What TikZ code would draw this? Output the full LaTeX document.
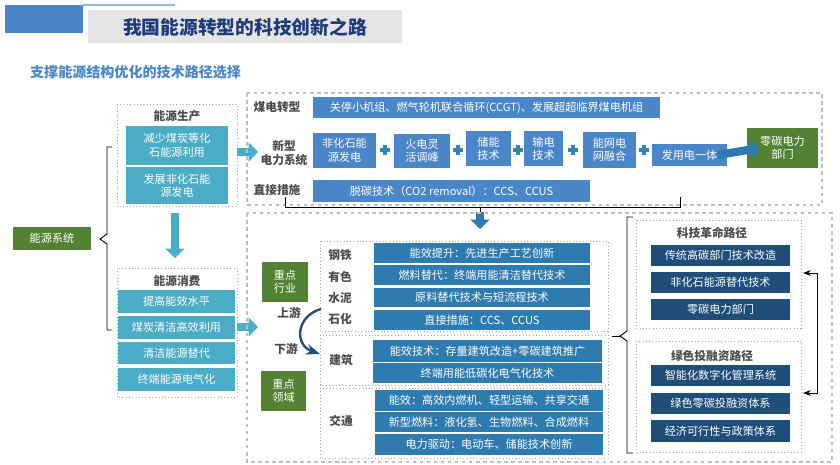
\documentclass[tikz,border=0pt]{standalone}
\usepackage{fontspec}
\setmainfont{Noto Sans CJK SC}
\usetikzlibrary{arrows.meta,decorations.pathreplacing}

\definecolor{teal}{HTML}{4BACC6}
\definecolor{midblue}{HTML}{4A86C8}
\definecolor{steel}{HTML}{2E7BB0}
\definecolor{navy}{HTML}{1F4E79}
\definecolor{leaf}{HTML}{548235}
\definecolor{ttl}{HTML}{1F3C7A}

\tikzset{
  bx/.style={inner sep=0pt,align=center,text=white,font=\fontsize{9.5}{11.5}\selectfont},
  lbl/.style={font=\bfseries\fontsize{10}{12}\selectfont,text=black!70,align=center},
  dotbox/.style={draw=black!35,dotted,thick},
  dashbox/.style={draw=black!25,dashed,line width=1.2pt},
  blk/.style={line width=7,-{Triangle[length=8,width=16]}},
  plus/.style={line width=3.2,color=steel!80!teal},
}

% box from corner to corner
\def\bx#1#2#3#4#5#6#7{
  \fill[#6] (#2,#3) rectangle (#4,#5);
  \node[bx] (#1) at ({(#2+#4)/2},{(#3+#5)/2}) {#7};
}
\def\pl#1{
  \draw[plus] (#1-5,150)--(#1+5,150);
  \draw[plus] (#1,145)--(#1,155);
}

\begin{document}
\begin{tikzpicture}[x=0.03cm,y=-0.03cm,>=Stealth]
\useasboundingbox (0,0) rectangle (840,464);

% header
\fill[midblue] (5,5) rectangle (83,33);
\draw[midblue!60,line width=1pt] (83,5)--(175,5);
\fill[black!10] (88,10) rectangle (402,43);
\node[font=\bfseries\fontsize{16}{18}\selectfont,text=ttl] (title) at (245,27) {我国能源转型的科技创新之路};
\node[font=\bfseries\fontsize{12}{14}\selectfont,text=midblue,anchor=west] (sub) at (26,72) {支撑能源结构优化的技术路径选择};

% left part
\bx{sys}{13}{227}{91}{250}{leaf}{能源系统}
\draw[thick] (112,147)--(107,147)--(107,234)--(100,239)--(107,244)--(107,330)--(112,330);

\draw[dotbox] (117,104) rectangle (237,206);
\node[lbl] (prod) at (177,116) {能源生产};
\bx{p1}{126}{126}{228}{165}{teal}{减少煤炭等化\\石能源利用}
\bx{p2}{126}{167}{228}{204}{teal}{发展非化石能\\源发电}
\draw[blk,teal] (175,213)--(175,258);

\draw[dotbox] (117,268) rectangle (237,397);
\node[lbl] (cons) at (177,281) {能源消费};
\bx{c1}{118}{290}{235}{313}{teal}{提高能效水平}
\bx{c2}{118}{316}{235}{339}{teal}{煤炭清洁高效利用}
\bx{c3}{118}{342}{235}{364}{teal}{清洁能源替代}
\bx{c4}{118}{368}{235}{391}{teal}{终端能源电气化}

\draw[blk,teal] (237,152)--(258,152);
\draw[blk,teal] (237,327)--(258,327);

% upper: power
\draw[dashbox] (247,93) rectangle (822,205);
\node[lbl] (coal) at (277,107) {煤电转型};
\bx{coalb}{313}{97}{660}{118}{midblue}{关停小机组、燃气轮机联合循环(CCGT)、发展超超临界煤电机组}
\node[lbl] (newp) at (284,153) {新型\\电力系统};
\bx{n1}{313}{133}{376}{168}{midblue}{非化石能\\源发电}
\pl{385}
\bx{n2}{394}{134}{450}{168}{midblue}{火电灵\\活调峰}
\pl{458}
\bx{n3}{466}{131}{511}{166}{midblue}{储能\\技术}
\pl{518}
\bx{n4}{524}{131}{563}{166}{midblue}{输电\\技术}
\pl{573}
\bx{n5}{583}{132}{636}{168}{midblue}{能网电\\网融合}
\pl{644}
\bx{n6}{652}{144}{727}{166}{midblue}{发用电一体}
\bx{zero}{747}{128}{818}{168}{leaf}{零碳电力\\部门}
\draw[blk,steel] (n6.east)--(zero.west);
\node[lbl] (direct) at (277,190) {直接措施};
\bx{dirb}{313}{180}{590}{202}{midblue}{脱碳技术（CO2 removal）：CCS、CCUS}
\draw[thin] (285,197)--(285,207)--(680,207)--(680,197);
\draw[thin] (480,207)--(480,214);
\draw[blk,steel] (480,212)--(480,229);

% lower: demand side
\draw[dashbox] (247,213) rectangle (832,462);
\bx{ind}{262}{262}{308}{302}{leaf}{重点\\行业}
\bx{fld}{261}{371}{306}{411}{leaf}{重点\\领域}
\node[lbl] (up) at (289,313) {上游};
\node[lbl] (down) at (286,349) {下游};
\draw[->,navy,line width=2pt] (321,309) .. controls (296,316) and (294,345) .. (320,354);

\draw[dotbox] (320,241) rectangle (608,331);
\node[lbl] (i1) at (340,255) {钢铁};
\node[lbl] (i2) at (340,277) {有色};
\node[lbl] (i3) at (340,298) {水泥};
\node[lbl] (i4) at (340,319) {石化};
\bx{s1}{374}{243}{590}{263}{steel}{能效提升：先进生产工艺创新}
\bx{s2}{374}{265}{590}{285}{steel}{燃料替代：终端用能清洁替代技术}
\bx{s3}{374}{288}{590}{307}{steel}{原料替代技术与短流程技术}
\bx{s4}{374}{310}{590}{330}{steel}{直接措施：CCS、CCUS}

\draw[dotbox] (320,335) rectangle (608,385);
\node[lbl] (bld) at (341,360) {建筑};
\bx{b1}{373}{340}{602}{362}{steel}{能效技术：存量建筑改造+零碳建筑推广}
\bx{b2}{373}{363}{602}{383}{steel}{终端用能低碳化电气化技术}

\draw[dotbox] (320,388) rectangle (608,458);
\node[lbl] (trn) at (341,421) {交通};
\bx{t1}{375}{390}{603}{411}{steel}{能效：高效内燃机、轻型运输、共享交通}
\bx{t2}{375}{412}{603}{432}{steel}{新型燃料：液化氢、生物燃料、合成燃料}
\bx{t3}{375}{434}{603}{455}{steel}{电力驱动：电动车、储能技术创新}

% right paths
\draw[thick] (633,217)--(627,217)--(627,331)--(620,336)--(627,341)--(627,453)--(633,453);
\draw[thick] (612,336)--(620,336);

\draw[dotbox] (636,220) rectangle (801,328);
\node[lbl] (tech) at (712,233) {科技革命路径};
\bx{r1}{651}{245}{790}{266}{navy}{传统高碳部门技术改造}
\bx{r2}{651}{272}{790}{293}{navy}{非化石能源替代技术}
\bx{r3}{651}{299}{790}{320}{navy}{零碳电力部门}

\draw[dotbox] (636,341) rectangle (801,452);
\node[lbl] (fin) at (712,356) {绿色投融资路径};
\bx{g1}{651}{365}{790}{386}{navy}{智能化数字化管理系统}
\bx{g2}{651}{393}{790}{414}{navy}{绿色零碳投融资体系}
\bx{g3}{651}{420}{790}{442}{navy}{经济可行性与政策体系}

\coordinate (ta) at (803,273);
\coordinate (tb) at (803,393);
\draw[<->,thick] (ta)--(817,273)--(817,393)--(tb);

\end{tikzpicture}
\end{document}
